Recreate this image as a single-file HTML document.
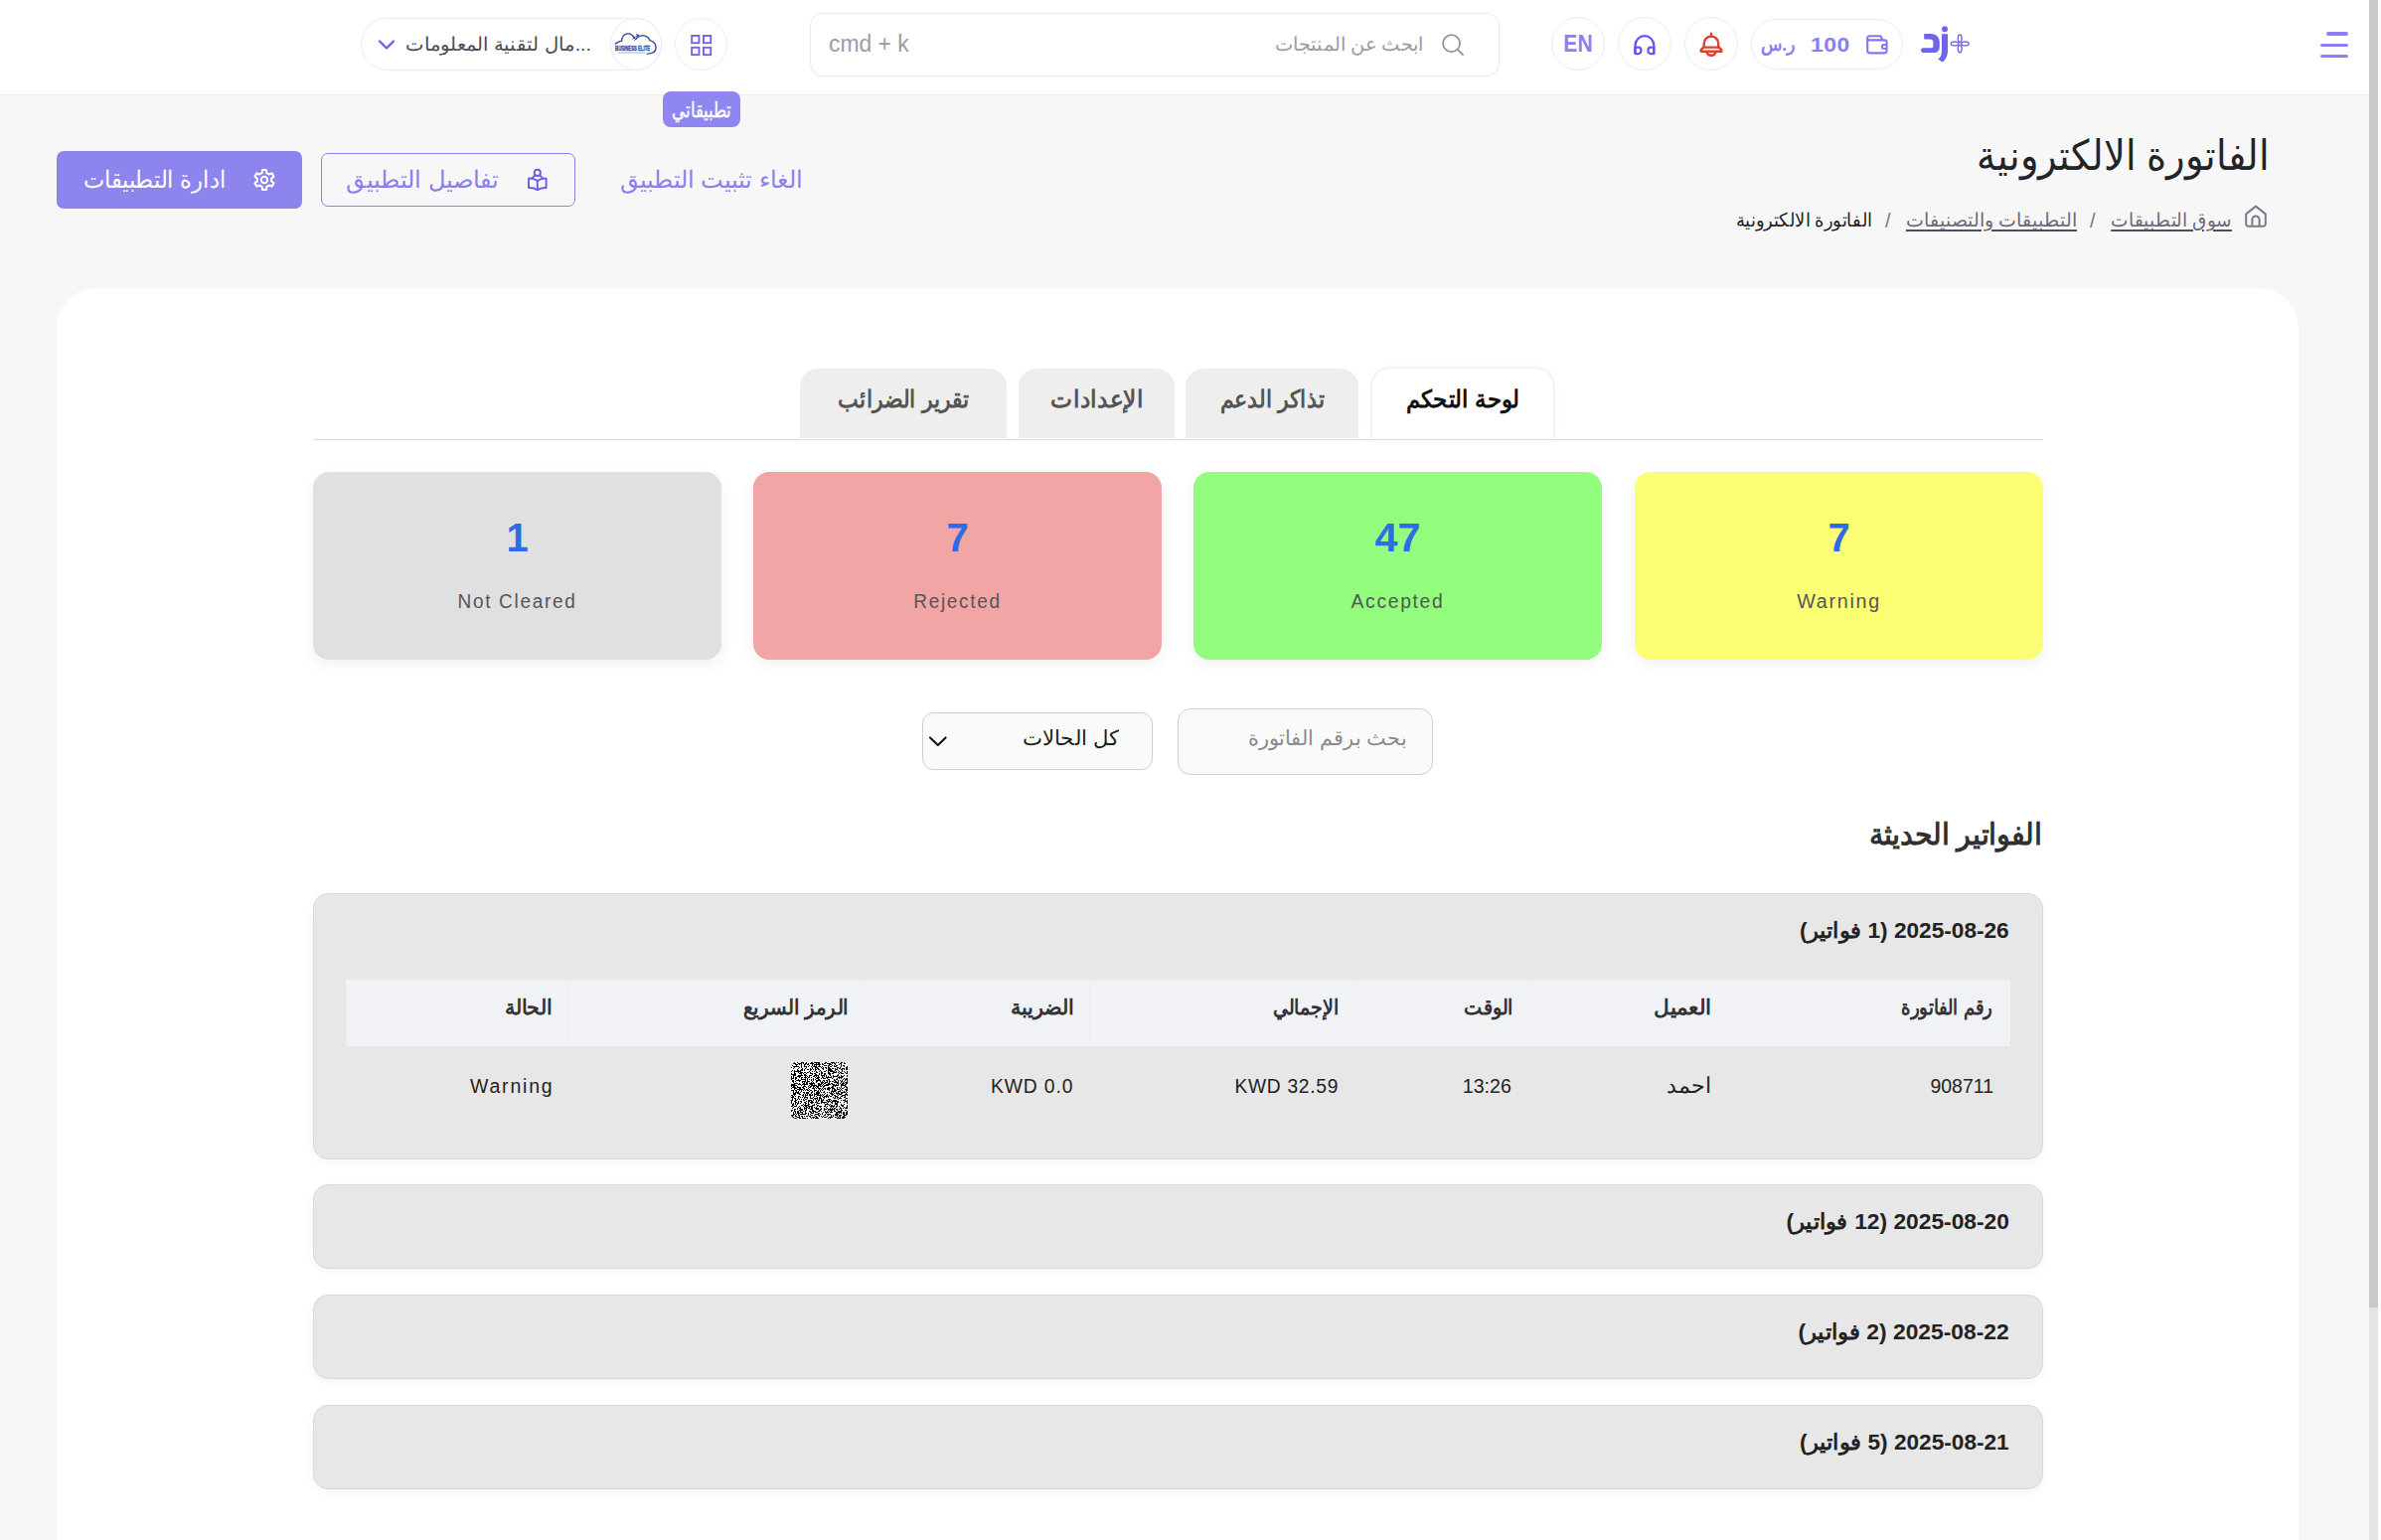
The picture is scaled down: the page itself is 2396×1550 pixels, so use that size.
<!DOCTYPE html>
<html lang="ar" dir="rtl">
<head>
<meta charset="utf-8">
<title>الفاتورة الالكترونية</title>
<style>
*{box-sizing:border-box;margin:0;padding:0}
html,body{width:2396px;height:1550px;overflow:hidden;background:#f7f7f7;font-family:"Liberation Sans",sans-serif;color:#222}
.abs{position:absolute}
.t{position:absolute;white-space:nowrap;line-height:1}
#header{position:absolute;left:0;top:0;width:2384px;height:96px;background:#fff;border-bottom:1px solid #eeeef0}
.circ{position:absolute;width:54px;height:54px;border-radius:50%;border:1.5px solid #ecebfd;background:#fff}
#sb-track{position:absolute;left:2384px;top:0;width:9px;height:1550px;background:#e4e4e4}
#sb-thumb{position:absolute;left:2384px;top:0;width:9px;height:1316px;background:#c9c9c9}
#sb-edge{position:absolute;left:2393px;top:0;width:3px;height:1550px;background:#fcfcfc}
#main{position:absolute;left:57px;top:290px;width:2256px;height:1260px;background:#fff;border-radius:40px 40px 0 0}
.tab{position:absolute;top:371px;height:70px;background:#eee;border-radius:18px 18px 0 0;color:#555;font-weight:bold;text-align:center}
.tab span{display:inline-block;font-size:24px;line-height:61px;position:relative;transform-origin:center}
.tab.on{top:370px;height:71px;background:#fff;color:#111;border:1px solid #ececec;border-bottom:none;box-shadow:0 0 6px rgba(0,0,0,.05)}
.stat{position:absolute;top:475px;width:411px;height:189px;border-radius:16px;text-align:center;box-shadow:0 5px 16px rgba(0,0,0,.055)}
.stat b{position:absolute;left:0;right:0;top:44px;font-size:40px;line-height:44px;color:#2e6be6}
.stat i{position:absolute;left:0;right:0;top:118px;font-style:normal;font-size:19.5px;line-height:24px;color:#555;letter-spacing:1.7px}
.acc{position:absolute;left:315px;width:1741px;background:#e7e7e7;border:1px solid #d9d9d9;border-radius:15px;box-shadow:0 3px 10px rgba(0,0,0,.04)}
.acc h3{position:absolute;right:33px;font-size:22px;line-height:30px;font-weight:bold;color:#222;white-space:nowrap}
.th{position:absolute;top:986px;height:67px;background:#f1f2f6;font-weight:bold;font-size:21px;line-height:56px;color:#333;text-align:right;padding-right:15.5px;border-left:1px solid #eceef2}
.td{position:absolute;top:1053px;height:89px;font-size:19.5px;line-height:80px;color:#222;text-align:right;padding-right:17px;letter-spacing:0;white-space:nowrap}
.sx{display:inline-block;transform-origin:right center;white-space:nowrap}
.t{transform-origin:right center}
.t.c{transform-origin:center}
.t.l{transform-origin:left center}
.acc h3{transform-origin:right center}
@media (max-width:1300px){html{zoom:.5}}
/*TUNE*/#store{transform:scaleX(1.031)}#cmdk{transform:scaleX(0.994)}#srch{transform:scaleX(1.019)}#en{transform:scaleX(0.917)}#w100{transform:scaleX(1.093)}#wsar{transform:scaleX(0.925)}#tip{transform:scaleX(0.787)}#title{transform:scaleX(0.914)}#bc1{transform:scaleX(0.973)}#bc3{transform:scaleX(0.945)}#b1{transform:scaleX(0.94)}#b2{transform:scaleX(1.007)}#tb1{transform:scaleX(0.913)}#tb2{transform:scaleX(0.97)}#tb3{transform:scaleX(0.918)}#tb4{transform:scaleX(0.956)}#s1i{transform:scaleX(0.976)}#s2i{transform:scaleX(0.975)}#s3i{transform:scaleX(0.989)}#s4i{transform:scaleX(1.011)}#s3b{transform:scaleX(1.034)}#sel{transform:scaleX(1.013)}#inp{transform:scaleX(0.991)}#h2{transform:scaleX(0.947)}#a1{transform:scaleX(1.029)}#a2{transform:scaleX(1.035)}#a3{transform:scaleX(1.037)}#a4{transform:scaleX(1.029)}#h1c{transform:scaleX(0.859)}#h2c{transform:scaleX(1.031)}#h3c{transform:scaleX(0.917)}#h4c{transform:scaleX(0.909)}#h5c{transform:scaleX(0.984)}#h6c{transform:scaleX(0.94)}#h7c{transform:scaleX(0.981)}#d2{transform:scaleX(1.009)}#d3{transform:scaleX(1.005)}#d4{transform:scaleX(0.986)}#d5{transform:scaleX(0.988)}#d7{transform:scaleX(1.001)}/*ENDTUNE*/
</style>
</head>
<body>
<div id="header">
  <!-- store pill -->
  <div class="abs" style="left:363px;top:18px;width:303px;height:53px;border:1.5px solid #ecebfd;border-radius:27px;background:#fff"></div>
  <svg class="abs" style="left:379px;top:38px" width="20" height="14" viewBox="0 0 20 14"><path d="M3 3.5 L10 10.5 L17 3.5" fill="none" stroke="#6f60f0" stroke-width="2.4" stroke-linecap="round" stroke-linejoin="round"/></svg>
  <div class="t" id="store" style="left:409px;top:30px;width:186px;font-size:19px;line-height:30px;color:#4a4958;text-align:right;direction:rtl">...مال لتقنية المعلومات</div>
  <div class="abs" style="left:614px;top:18px;width:52px;height:53px;border-radius:50%;border:1.5px solid #e9e8fc;background:#fff"></div>
  <svg class="abs" style="left:617px;top:30px" width="46" height="30" viewBox="0 0 46 30">
    <path d="M2.1 14.1 C4 12.6 6.4 11.7 8.6 11.2 C8.4 6.8 11.4 3.8 15 3.8 C18 3.8 20 5.6 21.4 8.4" fill="none" stroke="#27408f" stroke-width="1.3" stroke-linecap="round"/>
    <path d="M22.6 9.6 C24.4 7 27.6 5.6 30.6 5.9 C33.6 6.2 35.9 8 36.9 10.6 C40.6 11.6 43.1 14.6 43.1 17.9 C43.1 21.6 39.6 24 34 24.1" fill="none" stroke="#27408f" stroke-width="1.3" stroke-linecap="round"/>
    <path d="M19.6 9.2 L25.2 5.2 M21.4 10.4 L26 6.6 M23.4 4.9 L25.4 5 L25 7" fill="none" stroke="#27408f" stroke-width=".9" stroke-linecap="round"/>
    <text transform="translate(2.1 21) scale(.635 1)" font-family="Liberation Sans, sans-serif" font-weight="bold" font-size="6.7" fill="#2b4494" stroke="#2b4494" stroke-width=".3" direction="ltr">BUSINESS ELITE</text>
    <rect x="5" y="22.4" width="27" height="1.2" fill="#b4bddb"/>
  </svg>
  <!-- grid button -->
  <div class="circ" style="left:679px;top:18px;width:53px;height:53px"></div>
  <svg class="abs" style="left:694px;top:34px" width="24" height="24" viewBox="0 0 24 24" fill="none" stroke="#7064f0" stroke-width="1.9"><rect x="2.15" y="1.95" width="7.3" height="7.3"/><rect x="13.95" y="1.95" width="7.3" height="7.3"/><rect x="2.15" y="13.85" width="7.3" height="7.3"/><rect x="13.95" y="13.85" width="7.3" height="7.3"/></svg>
  <!-- search -->
  <div class="abs" style="left:815px;top:13px;width:694px;height:64px;border:1.5px solid #e9e9ed;border-radius:13px;background:#fff"></div>
  <div class="t l" id="cmdk" style="left:834px;top:29px;font-size:23px;line-height:30px;color:#9b9aa6;direction:ltr">cmd + k</div>
  <div class="t" id="srch" style="left:1280px;top:30px;width:152px;font-size:19px;line-height:30px;color:#9a99a5;text-align:right">ابحث عن المنتجات</div>
  <svg class="abs" style="left:1449px;top:32px" width="26" height="26" viewBox="0 0 26 26" fill="none" stroke="#92919d" stroke-width="1.8" stroke-linecap="round"><circle cx="11.6" cy="11.7" r="8.5"/><path d="M18.3 18.3 L23 23"/></svg>
  <!-- EN -->
  <div class="circ" style="left:1561px;top:17px"></div>
  <div class="t c" id="en" style="left:1561px;top:29px;width:54px;text-align:center;font-size:23px;line-height:30px;font-weight:bold;color:#8b80f1;direction:ltr">EN</div>
  <!-- headphones -->
  <div class="circ" style="left:1628px;top:17px"></div>
  <svg class="abs" style="left:1643px;top:33px" width="24" height="24" viewBox="0 0 24 24" fill="none" stroke="#6557ee" stroke-width="2.25" stroke-linejoin="round"><path d="M2.5 21 V12.6 A9.4 9.4 0 0 1 21.3 12.6 V21"/><path d="M2.5 14.6 H5.8 A2.5 2.5 0 0 1 8.3 17.1 V18.5 A2.5 2.5 0 0 1 5.8 21 H2.5 Z"/><path d="M21.3 14.6 H18 A2.5 2.5 0 0 0 15.5 17.1 V18.5 A2.5 2.5 0 0 0 18 21 H21.3 Z"/></svg>
  <!-- bell -->
  <div class="circ" style="left:1695px;top:17px"></div>
  <svg class="abs" style="left:1709px;top:31px" width="26" height="28" viewBox="0 0 26 28" fill="none" stroke="#d9432f" stroke-width="2.4" stroke-linejoin="round" stroke-linecap="round"><path d="M13 2.8 V5"/><path d="M5.8 16.4 V12.8 A7.2 7.2 0 0 1 20.2 12.8 V16.4"/><path d="M5.2 16.6 H20.8 L23.3 19.2 V20.8 H2.7 V19.2 Z"/><path d="M8.4 21.4 C9.8 25.9 16.2 25.9 17.6 21.4"/></svg>
  <!-- wallet pill -->
  <div class="abs" style="left:1762px;top:19px;width:153px;height:51px;border:1.5px solid #ecebfd;border-radius:26px;background:#fff"></div>
  <svg class="abs" style="left:1877px;top:34px" width="24" height="22" viewBox="0 0 24 22" fill="none" stroke="#8377f0" stroke-width="2.1" stroke-linejoin="round"><path d="M2.2 6.4 V4.4 A2.2 2.2 0 0 1 4.4 2.2 H15.6 L17.2 6.4"/><path d="M2.2 6.4 H19.2 A2.4 2.4 0 0 1 21.6 8.8 V17 A2.4 2.4 0 0 1 19.2 19.4 H4.6 A2.4 2.4 0 0 1 2.2 17 Z"/><path d="M21.4 11 H18.9 A2 2 0 0 0 18.9 15 H21.4"/></svg>
  <div class="t l" id="w100" style="left:1822px;top:30px;font-size:21px;line-height:30px;font-weight:bold;color:#8a7ff1;direction:ltr;letter-spacing:.5px">100</div>
  <div class="t l" id="wsar" style="left:1772px;top:30px;font-size:19px;line-height:30px;font-weight:bold;color:#8a7ff1">ر.س</div>
  <!-- logo -->
  <svg class="abs" style="left:1930px;top:24px" width="56" height="42" viewBox="0 0 56 42" fill="#7064ea">
    <circle cx="27" cy="5.3" r="3"/>
    <path d="M24 10.2 H30 V27 C30 33 27.5 36.5 24.5 38.6 L20.3 35.6 C23 33.6 24 31 24 27 Z"/>
    <path d="M6.2 10 H13 C19 10 21.8 13.5 21.8 19 V23 C21.8 27 19.5 29 16 29 H6 C2.5 29 2 25 5 24.2 H13.5 C15 24.2 15.4 23.6 15.4 22 V19 C15.4 16.6 14.4 15.6 12 15.6 H6.2 Z"/>
    <g fill="none" stroke="#7064ea" stroke-width="1.35"><ellipse cx="42.2" cy="14.7" rx="1.9" ry="3.8"/><ellipse cx="42.2" cy="25.1" rx="1.9" ry="3.8"/><ellipse cx="37" cy="19.9" rx="3.8" ry="1.9"/><ellipse cx="47.4" cy="19.9" rx="3.8" ry="1.9"/></g>
  </svg>
  <!-- hamburger -->
  <div class="abs" style="left:2341px;top:32px;width:22px;height:4px;border-radius:2px;background:#8c80f0"></div>
  <div class="abs" style="left:2335px;top:44px;width:28px;height:3px;border-radius:2px;background:#8c80f0"></div>
  <div class="abs" style="left:2335px;top:55px;width:28px;height:3px;border-radius:2px;background:#8c80f0"></div>
</div>
<!-- tooltip -->
<div class="abs" style="left:667px;top:92px;width:78px;height:36px;border-radius:8px;background:#8f86ef"></div>
<div class="t c" id="tip" style="left:657px;top:95.5px;width:98px;text-align:center;font-size:21px;line-height:30px;color:#fff;-webkit-text-stroke:.35px #fff">تطبيقاتي</div>
<!-- page title / breadcrumb -->
<div class="t" id="title" style="right:112.5px;top:127px;font-size:42px;line-height:60px;color:#222429">الفاتورة الالكترونية</div>
<svg class="abs" style="left:2257.2px;top:205.3px" width="26" height="26" viewBox="0 0 26 26" fill="none" stroke="#7b7a8a" stroke-width="2" stroke-linejoin="round"><path d="M3.2 10.4 L13 2.6 L22.8 10.4 V20.4 A2.4 2.4 0 0 1 20.4 22.8 H5.6 A2.4 2.4 0 0 1 3.2 20.4 Z"/><path d="M9.4 22.6 V16 A3.6 3.6 0 0 1 16.6 16 V22.6"/></svg>
<div class="t" id="bc1" style="left:2124px;top:206px;width:122px;text-align:right;font-size:18.5px;line-height:32px;color:#6a697a;text-decoration:underline;text-decoration-thickness:1.6px;text-decoration-color:#4f4e5f;text-underline-offset:3.4px">سوق التطبيقات</div>
<div class="t l" id="bcs1" style="left:2103px;top:206px;font-size:20px;line-height:32px;color:#777686;direction:ltr">/</div>
<div class="t" id="bc2" style="left:1917px;top:206px;width:173px;text-align:right;font-size:18.5px;line-height:32px;color:#6a697a;text-decoration:underline;text-decoration-thickness:1.6px;text-decoration-color:#4f4e5f;text-underline-offset:3.4px">التطبيقات والتصنيفات</div>
<div class="t l" id="bcs2" style="left:1897px;top:206px;font-size:20px;line-height:32px;color:#777686;direction:ltr">/</div>
<div class="t" id="bc3" style="left:1747px;top:206px;width:137px;text-align:right;font-size:18.5px;line-height:32px;color:#1f1f24">الفاتورة الالكترونية</div>
<!-- action buttons -->
<div class="abs" style="left:57px;top:152px;width:247px;height:58px;border-radius:7px;background:#8e84ee"></div>
<div class="t" id="b1" style="left:84px;top:163px;width:144px;text-align:right;font-size:23.5px;line-height:36px;color:#fff">ادارة التطبيقات</div>
<svg class="abs" style="left:254px;top:169px" width="24" height="24" viewBox="0 0 24 24" fill="none" stroke="#fff" stroke-width="2" stroke-linejoin="round"><circle cx="12" cy="12" r="3.2"/><path d="M14.38 5.10 L13.93 2.09 L10.07 2.09 L9.62 5.10 L7.21 6.49 L4.38 5.37 L2.45 8.71 L4.83 10.61 L4.83 13.39 L2.45 15.29 L4.38 18.63 L7.21 17.51 L9.62 18.90 L10.07 21.91 L13.93 21.91 L14.38 18.90 L16.79 17.51 L19.62 18.63 L21.55 15.29 L19.17 13.39 L19.17 10.61 L21.55 8.71 L19.62 5.37 L16.79 6.49 Z"/></svg>
<div class="abs" style="left:323px;top:154px;width:256px;height:54px;border-radius:7px;border:1.4px solid #8d83ee"></div>
<div class="t" id="b2" style="left:348px;top:163px;width:154px;text-align:right;font-size:23.5px;line-height:36px;color:#8b81ee">تفاصيل التطبيق</div>
<svg class="abs" style="left:530px;top:169px" width="22" height="24" viewBox="0 0 22 24" fill="none" stroke="#6a5ce9" stroke-width="1.9" stroke-linejoin="round" stroke-linecap="round"><circle cx="10.8" cy="4.9" r="3.1"/><path d="M8.4 7.4 L5.6 10.2 M13.2 7.4 L16 10.2"/><path d="M10.8 12.9 C8 10.9 5 10.4 2 10.6 V20 C5 19.8 8 20.3 10.8 22.2 C13.6 20.3 16.6 19.8 19.6 20 V10.6 C16.6 10.4 13.6 10.9 10.8 12.9 Z"/><path d="M10.8 12.9 V22"/></svg>
<div class="t" id="b3" style="left:624px;top:163px;width:184px;text-align:right;font-size:23.5px;line-height:36px;color:#8b81ee">الغاء تثبيت التطبيق</div>
<div id="main"></div>
<!-- tabs -->
<div class="tab" style="left:805px;width:208px"><span id="tb1">تقرير الضرائب</span></div>
<div class="tab" style="left:1025px;width:157px"><span id="tb2">الإعدادات</span></div>
<div class="tab" style="left:1193px;width:174px"><span id="tb3">تذاكر الدعم</span></div>
<div class="tab on" style="left:1380px;width:184px"><span id="tb4">لوحة التحكم</span></div>
<div class="abs" style="left:315px;top:442px;width:1741px;height:1px;background:#e0e0e0"></div>
<!-- stat cards -->
<div class="stat" style="left:315px;background:#e0e0e0" dir="ltr"><b id="s1b">1</b><i id="s1i">Not Cleared</i></div>
<div class="stat" style="left:758px;background:#f2a5a5" dir="ltr"><b id="s2b">7</b><i id="s2i">Rejected</i></div>
<div class="stat" style="left:1201px;background:#93fd7e" dir="ltr"><b id="s3b">47</b><i id="s3i">Accepted</i></div>
<div class="stat" style="left:1645px;background:#fbff74" dir="ltr"><b id="s4b">7</b><i id="s4i">Warning</i></div>
<!-- filters -->
<div class="abs" style="left:928px;top:717px;width:232px;height:58px;border:1px solid #cfcfcf;border-radius:11px;background:#fafafa"></div>
<svg class="abs" style="left:933px;top:738px" width="22" height="16" viewBox="0 0 22 16"><path d="M3 4.4 L10.8 12 L18.6 4.4" fill="none" stroke="#111" stroke-width="2.1" stroke-linecap="round" stroke-linejoin="round"/></svg>
<div class="t" id="sel" style="left:1006px;top:726px;width:120px;text-align:right;font-size:21px;line-height:34px;color:#1d1d1d">كل الحالات</div>
<div class="abs" style="left:1185px;top:713px;width:257px;height:67px;border:1px solid #cfcfcf;border-radius:13px;background:#fafafa"></div>
<div class="t" id="inp" style="left:1234px;top:726px;width:182px;text-align:right;font-size:21px;line-height:34px;color:#8a8a8a">بحث برقم الفاتورة</div>
<!-- heading -->
<div class="t" id="h2" style="right:342px;top:815px;font-size:30px;line-height:50px;font-weight:bold;color:#303030">الفواتير الحديثة</div>
<!-- accordion 1 -->
<div class="acc" style="top:899px;height:268px"><h3 id="a1" style="top:22px">2025-08-26 (1 فواتير)</h3></div>
<div class="th" style="left:1737px;width:286px;border-left:none;padding-right:18px"><span class="sx" id="h1c">رقم الفاتورة</span></div>
<div class="th" style="left:1538px;width:199px"><span class="sx" id="h2c">العميل</span></div>
<div class="th" style="left:1362px;width:176px"><span class="sx" id="h3c">الوقت</span></div>
<div class="th" style="left:1096px;width:266px"><span class="sx" id="h4c">الإجمالي</span></div>
<div class="th" style="left:869px;width:227px"><span class="sx" id="h5c">الضريبة</span></div>
<div class="th" style="left:571px;width:298px"><span class="sx" id="h6c">الرمز السريع</span></div>
<div class="th" style="left:348px;width:223px"><span class="sx" id="h7c">الحالة</span></div>
<div class="td" style="left:1737px;width:286px" dir="ltr"><span class="sx" id="d1">908711</span></div>
<div class="td" style="left:1538px;width:199px;font-size:21.5px;padding-right:15px"><span class="sx" id="d2">احمد</span></div>
<div class="td" style="left:1362px;width:176px" dir="ltr"><span class="sx" id="d3">13:26</span></div>
<div class="td" style="left:1096px;width:266px;letter-spacing:.7px;padding-right:14.5px" dir="ltr"><span class="sx" id="d4">KWD 32.59</span></div>
<div class="td" style="left:869px;width:227px;letter-spacing:.9px;padding-right:16px" dir="ltr"><span class="sx" id="d5">KWD 0.0</span></div>
<div class="td" style="left:348px;width:223px;letter-spacing:1.8px;padding-right:14px" dir="ltr"><span class="sx" id="d7">Warning</span></div>
<div class="abs" style="left:348px;top:1142px;width:1675px;height:1px;background:#eeeeee"></div>
<svg class="abs" id="qr" style="left:796px;top:1069px;border-radius:5px;background:#fff" width="57" height="57" viewBox="0 0 57 57" preserveAspectRatio="none"><path d="M0 0.5h1M3 0.5h1M6 0.5h1M10 0.5h3M15 0.5h1M20 0.5h2M23 0.5h6M34 0.5h2M40 0.5h4M45 0.5h1M47 0.5h1M50 0.5h2M53 0.5h1M55 0.5h2M2 1.5h3M7 1.5h4M12 1.5h1M14 1.5h2M17 1.5h1M19 1.5h4M25 1.5h1M27 1.5h2M31 1.5h1M33 1.5h2M36 1.5h4M41 1.5h1M43 1.5h2M49 1.5h2M53 1.5h2M0 2.5h1M4 2.5h3M8 2.5h1M10 2.5h1M13 2.5h2M16 2.5h2M21 2.5h1M23 2.5h7M31 2.5h2M38 2.5h3M44 2.5h1M48 2.5h1M50 2.5h1M1 3.5h1M5 3.5h1M10 3.5h1M13 3.5h1M18 3.5h1M21 3.5h1M23 3.5h1M25 3.5h1M28 3.5h1M33 3.5h3M37 3.5h2M41 3.5h1M43 3.5h1M45 3.5h2M50 3.5h1M52 3.5h2M2 4.5h6M10 4.5h1M13 4.5h3M17 4.5h1M20 4.5h1M22 4.5h4M27 4.5h3M31 4.5h1M37 4.5h1M39 4.5h2M43 4.5h3M50 4.5h1M53 4.5h1M56 4.5h1M0 5.5h1M3 5.5h1M8 5.5h1M10 5.5h1M15 5.5h1M21 5.5h1M24 5.5h3M30 5.5h1M32 5.5h1M34 5.5h2M37 5.5h2M46 5.5h2M49 5.5h1M55 5.5h2M2 6.5h1M7 6.5h1M11 6.5h1M14 6.5h1M19 6.5h1M21 6.5h1M24 6.5h1M26 6.5h2M31 6.5h2M35 6.5h1M37 6.5h3M41 6.5h2M44 6.5h1M46 6.5h1M48 6.5h2M51 6.5h3M55 6.5h2M6 7.5h1M10 7.5h2M13 7.5h1M16 7.5h2M19 7.5h2M22 7.5h1M24 7.5h2M27 7.5h2M32 7.5h1M37 7.5h4M44 7.5h3M50 7.5h2M53 7.5h1M55 7.5h2M1 8.5h1M3 8.5h1M6 8.5h2M9 8.5h3M13 8.5h1M19 8.5h1M24 8.5h1M29 8.5h1M35 8.5h1M37 8.5h5M44 8.5h1M47 8.5h1M51 8.5h1M0 9.5h1M3 9.5h7M18 9.5h1M21 9.5h1M23 9.5h1M25 9.5h1M28 9.5h1M30 9.5h1M33 9.5h2M37 9.5h1M39 9.5h5M45 9.5h1M48 9.5h1M51 9.5h1M53 9.5h1M56 9.5h1M3 10.5h1M7 10.5h1M9 10.5h3M13 10.5h2M16 10.5h2M19 10.5h1M25 10.5h2M30 10.5h2M37 10.5h2M42 10.5h4M47 10.5h1M49 10.5h2M54 10.5h1M56 10.5h1M0 11.5h1M3 11.5h2M8 11.5h3M12 11.5h1M15 11.5h1M19 11.5h3M23 11.5h2M28 11.5h1M30 11.5h2M33 11.5h2M37 11.5h3M41 11.5h2M48 11.5h1M50 11.5h3M55 11.5h2M0 12.5h5M10 12.5h1M13 12.5h2M21 12.5h1M24 12.5h2M28 12.5h1M30 12.5h1M33 12.5h2M38 12.5h2M47 12.5h1M2 13.5h3M7 13.5h5M13 13.5h3M18 13.5h3M23 13.5h5M30 13.5h4M35 13.5h1M39 13.5h1M42 13.5h1M46 13.5h2M50 13.5h1M53 13.5h1M56 13.5h1M0 14.5h1M2 14.5h1M6 14.5h4M14 14.5h1M16 14.5h1M18 14.5h1M22 14.5h2M25 14.5h1M27 14.5h1M31 14.5h1M33 14.5h1M35 14.5h1M37 14.5h1M40 14.5h1M42 14.5h5M48 14.5h1M50 14.5h3M56 14.5h1M0 15.5h1M2 15.5h1M4 15.5h2M8 15.5h1M10 15.5h2M13 15.5h3M17 15.5h2M20 15.5h1M24 15.5h1M26 15.5h3M31 15.5h2M35 15.5h6M42 15.5h1M47 15.5h5M0 16.5h3M4 16.5h2M10 16.5h1M14 16.5h1M16 16.5h1M22 16.5h1M25 16.5h3M30 16.5h1M32 16.5h3M36 16.5h1M41 16.5h1M46 16.5h1M48 16.5h1M50 16.5h1M53 16.5h1M55 16.5h2M0 17.5h1M4 17.5h1M7 17.5h1M10 17.5h5M16 17.5h1M18 17.5h1M20 17.5h1M22 17.5h1M24 17.5h1M27 17.5h2M37 17.5h2M43 17.5h1M45 17.5h2M52 17.5h1M54 17.5h3M1 18.5h2M5 18.5h5M14 18.5h1M16 18.5h1M20 18.5h1M22 18.5h1M25 18.5h5M32 18.5h2M35 18.5h2M38 18.5h1M43 18.5h2M47 18.5h1M49 18.5h1M51 18.5h1M54 18.5h1M56 18.5h1M1 19.5h2M4 19.5h1M8 19.5h1M11 19.5h4M16 19.5h3M21 19.5h1M25 19.5h2M29 19.5h1M31 19.5h1M33 19.5h1M36 19.5h1M38 19.5h2M41 19.5h2M44 19.5h2M47 19.5h1M50 19.5h2M53 19.5h1M56 19.5h1M2 20.5h1M11 20.5h1M13 20.5h1M15 20.5h2M20 20.5h1M22 20.5h1M25 20.5h1M30 20.5h3M34 20.5h3M38 20.5h1M43 20.5h5M50 20.5h1M52 20.5h1M54 20.5h3M3 21.5h4M8 21.5h1M12 21.5h2M15 21.5h2M18 21.5h6M27 21.5h2M30 21.5h2M33 21.5h2M37 21.5h2M40 21.5h2M46 21.5h2M49 21.5h1M51 21.5h3M55 21.5h2M0 22.5h4M7 22.5h3M11 22.5h6M19 22.5h3M23 22.5h1M27 22.5h4M32 22.5h1M35 22.5h5M41 22.5h3M45 22.5h1M47 22.5h1M50 22.5h3M54 22.5h2M0 23.5h6M10 23.5h1M13 23.5h1M18 23.5h1M20 23.5h6M27 23.5h3M31 23.5h1M33 23.5h5M42 23.5h6M50 23.5h5M0 24.5h1M2 24.5h2M6 24.5h1M12 24.5h3M17 24.5h1M19 24.5h2M22 24.5h2M25 24.5h3M29 24.5h2M32 24.5h2M41 24.5h2M44 24.5h1M50 24.5h1M54 24.5h2M1 25.5h4M6 25.5h4M11 25.5h2M15 25.5h1M18 25.5h2M22 25.5h1M24 25.5h1M26 25.5h2M32 25.5h1M37 25.5h2M40 25.5h3M46 25.5h1M48 25.5h1M50 25.5h1M53 25.5h1M55 25.5h2M0 26.5h1M3 26.5h3M8 26.5h2M12 26.5h2M17 26.5h1M21 26.5h3M25 26.5h1M27 26.5h3M31 26.5h1M33 26.5h2M36 26.5h4M41 26.5h3M46 26.5h1M49 26.5h1M51 26.5h2M56 26.5h1M3 27.5h1M6 27.5h6M13 27.5h1M15 27.5h2M18 27.5h1M23 27.5h1M28 27.5h1M30 27.5h1M32 27.5h1M34 27.5h1M36 27.5h3M41 27.5h1M43 27.5h2M46 27.5h3M50 27.5h1M54 27.5h3M0 28.5h3M4 28.5h2M8 28.5h1M10 28.5h1M12 28.5h1M14 28.5h1M16 28.5h2M19 28.5h2M23 28.5h3M27 28.5h1M29 28.5h1M31 28.5h1M38 28.5h1M41 28.5h1M43 28.5h3M49 28.5h1M51 28.5h1M55 28.5h2M2 29.5h1M5 29.5h1M7 29.5h1M10 29.5h1M18 29.5h1M21 29.5h1M23 29.5h1M26 29.5h2M29 29.5h1M33 29.5h1M40 29.5h5M47 29.5h3M53 29.5h1M55 29.5h1M2 30.5h1M4 30.5h4M9 30.5h1M12 30.5h2M15 30.5h3M20 30.5h2M25 30.5h4M30 30.5h1M32 30.5h2M36 30.5h1M38 30.5h1M40 30.5h1M42 30.5h1M45 30.5h1M47 30.5h1M50 30.5h5M56 30.5h1M2 31.5h3M6 31.5h3M13 31.5h1M15 31.5h3M20 31.5h1M23 31.5h1M25 31.5h4M34 31.5h1M39 31.5h3M43 31.5h1M45 31.5h4M50 31.5h2M55 31.5h1M2 32.5h3M8 32.5h2M12 32.5h1M14 32.5h1M16 32.5h1M18 32.5h2M21 32.5h1M23 32.5h5M29 32.5h1M31 32.5h1M33 32.5h1M36 32.5h1M40 32.5h3M46 32.5h1M48 32.5h3M54 32.5h3M0 33.5h2M3 33.5h1M11 33.5h2M14 33.5h3M18 33.5h4M23 33.5h1M26 33.5h5M32 33.5h1M35 33.5h2M38 33.5h1M41 33.5h1M43 33.5h2M47 33.5h1M51 33.5h4M56 33.5h1M1 34.5h2M4 34.5h1M7 34.5h2M12 34.5h1M14 34.5h1M19 34.5h1M23 34.5h1M25 34.5h1M29 34.5h1M31 34.5h1M33 34.5h5M39 34.5h2M44 34.5h3M50 34.5h2M54 34.5h1M0 35.5h3M7 35.5h1M9 35.5h1M11 35.5h1M13 35.5h4M19 35.5h1M22 35.5h1M26 35.5h1M28 35.5h2M32 35.5h2M35 35.5h1M37 35.5h1M42 35.5h1M44 35.5h1M46 35.5h2M49 35.5h1M53 35.5h2M1 36.5h1M3 36.5h2M7 36.5h1M13 36.5h1M16 36.5h1M19 36.5h3M23 36.5h4M28 36.5h3M33 36.5h1M43 36.5h2M46 36.5h1M48 36.5h3M55 36.5h2M1 37.5h1M4 37.5h1M6 37.5h1M8 37.5h1M10 37.5h1M12 37.5h1M14 37.5h2M22 37.5h1M24 37.5h1M26 37.5h1M28 37.5h1M30 37.5h1M32 37.5h1M37 37.5h3M47 37.5h1M54 37.5h1M0 38.5h2M4 38.5h2M12 38.5h2M17 38.5h4M22 38.5h1M25 38.5h1M27 38.5h2M30 38.5h3M35 38.5h2M38 38.5h1M40 38.5h1M42 38.5h4M50 38.5h1M52 38.5h3M56 38.5h1M0 39.5h1M3 39.5h2M7 39.5h1M9 39.5h2M15 39.5h1M17 39.5h2M20 39.5h2M25 39.5h1M27 39.5h1M30 39.5h2M36 39.5h4M41 39.5h7M54 39.5h3M0 40.5h1M4 40.5h2M7 40.5h1M10 40.5h1M13 40.5h2M17 40.5h1M19 40.5h4M24 40.5h3M30 40.5h6M37 40.5h1M40 40.5h2M44 40.5h1M46 40.5h2M49 40.5h1M53 40.5h1M56 40.5h1M0 41.5h1M2 41.5h1M4 41.5h1M6 41.5h2M9 41.5h1M14 41.5h2M17 41.5h1M20 41.5h2M26 41.5h3M30 41.5h1M33 41.5h1M36 41.5h1M41 41.5h1M44 41.5h3M56 41.5h1M1 42.5h2M4 42.5h1M6 42.5h1M12 42.5h1M14 42.5h1M17 42.5h2M23 42.5h1M25 42.5h1M34 42.5h4M39 42.5h1M44 42.5h3M50 42.5h1M53 42.5h1M1 43.5h2M5 43.5h1M10 43.5h2M13 43.5h5M21 43.5h3M26 43.5h2M34 43.5h1M38 43.5h1M40 43.5h2M43 43.5h1M46 43.5h1M50 43.5h3M56 43.5h1M0 44.5h2M3 44.5h3M8 44.5h1M12 44.5h1M14 44.5h2M17 44.5h5M26 44.5h1M28 44.5h3M33 44.5h2M36 44.5h1M39 44.5h5M45 44.5h2M48 44.5h1M51 44.5h2M56 44.5h1M2 45.5h1M7 45.5h1M9 45.5h1M13 45.5h1M15 45.5h2M18 45.5h1M20 45.5h2M23 45.5h1M25 45.5h1M29 45.5h1M35 45.5h1M40 45.5h1M42 45.5h1M45 45.5h1M49 45.5h1M53 45.5h1M55 45.5h2M1 46.5h1M6 46.5h1M8 46.5h2M13 46.5h3M17 46.5h2M20 46.5h2M24 46.5h4M30 46.5h1M33 46.5h1M36 46.5h1M39 46.5h1M41 46.5h1M43 46.5h2M49 46.5h2M52 46.5h1M54 46.5h3M3 47.5h2M6 47.5h1M9 47.5h3M13 47.5h1M15 47.5h1M19 47.5h3M25 47.5h3M29 47.5h2M33 47.5h3M37 47.5h7M45 47.5h2M48 47.5h1M50 47.5h1M0 48.5h2M3 48.5h1M8 48.5h4M14 48.5h2M21 48.5h2M28 48.5h2M33 48.5h1M37 48.5h1M39 48.5h3M43 48.5h1M46 48.5h1M50 48.5h2M54 48.5h2M0 49.5h1M3 49.5h2M6 49.5h2M9 49.5h1M12 49.5h1M14 49.5h1M18 49.5h2M21 49.5h4M27 49.5h2M30 49.5h1M34 49.5h1M36 49.5h1M38 49.5h1M40 49.5h1M43 49.5h2M47 49.5h4M56 49.5h1M2 50.5h1M4 50.5h1M6 50.5h2M9 50.5h3M14 50.5h1M19 50.5h2M22 50.5h1M24 50.5h3M32 50.5h1M34 50.5h4M39 50.5h3M45 50.5h6M52 50.5h2M55 50.5h2M2 51.5h1M4 51.5h1M6 51.5h3M11 51.5h1M14 51.5h2M17 51.5h1M20 51.5h3M27 51.5h2M31 51.5h1M35 51.5h1M45 51.5h2M48 51.5h1M50 51.5h1M52 51.5h2M55 51.5h2M2 52.5h2M5 52.5h1M7 52.5h1M9 52.5h6M17 52.5h1M19 52.5h1M24 52.5h4M29 52.5h1M31 52.5h1M34 52.5h1M36 52.5h4M44 52.5h4M52 52.5h2M55 52.5h2M0 53.5h3M4 53.5h1M7 53.5h2M17 53.5h1M20 53.5h2M23 53.5h1M27 53.5h2M33 53.5h2M37 53.5h1M40 53.5h1M42 53.5h1M44 53.5h3M48 53.5h3M53 53.5h3M0 54.5h2M4 54.5h2M8 54.5h1M10 54.5h2M13 54.5h1M15 54.5h2M18 54.5h2M24 54.5h2M28 54.5h1M30 54.5h1M32 54.5h1M36 54.5h1M40 54.5h1M42 54.5h1M46 54.5h1M48 54.5h2M52 54.5h2M56 54.5h1M0 55.5h3M6 55.5h3M11 55.5h1M19 55.5h1M21 55.5h3M25 55.5h2M31 55.5h1M33 55.5h3M38 55.5h4M44 55.5h2M47 55.5h1M49 55.5h1M51 55.5h4M56 55.5h1M2 56.5h4M8 56.5h2M11 56.5h4M16 56.5h1M20 56.5h1M22 56.5h1M24 56.5h4M37 56.5h1M39 56.5h1M46 56.5h4M51 56.5h3M55 56.5h1" stroke="#000" stroke-width="1" fill="none"/></svg>
<!-- accordions 2-4 -->
<div class="acc" style="top:1192px;height:85px"><h3 id="a2" style="top:22px">2025-08-20 (12 فواتير)</h3></div>
<div class="acc" style="top:1303px;height:85px"><h3 id="a3" style="top:22px">2025-08-22 (2 فواتير)</h3></div>
<div class="acc" style="top:1414px;height:85px"><h3 id="a4" style="top:22px">2025-08-21 (5 فواتير)</h3></div>
<div id="sb-track"></div><div id="sb-thumb"></div><div id="sb-edge"></div>
</body>
</html>
